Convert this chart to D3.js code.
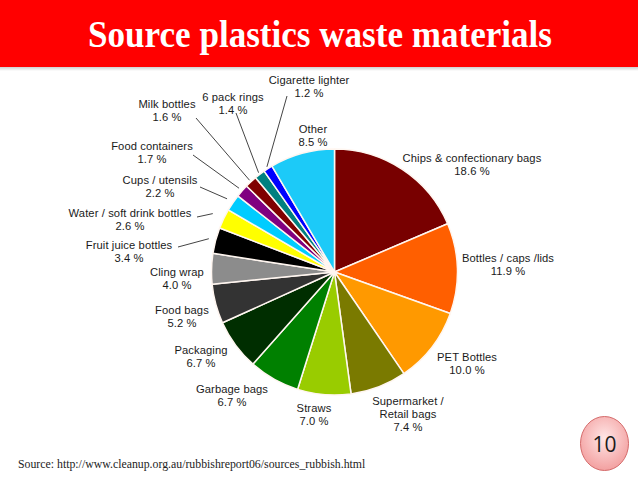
<!DOCTYPE html>
<html>
<head>
<meta charset="utf-8">
<script src="https://cdn.jsdelivr.net/npm/d3@7"></script>
<style>
  html, body { margin: 0; padding: 0; background: #fff; }
  svg { display: block; }
</style>
</head>
<body>
<svg id="chart" width="638" height="479"></svg>
<script>
// ---- data ----
const categories = [
  "Chips & confectionary bags", "Bottles / caps /lids", "PET Bottles",
  "Supermarket /\nRetail bags", "Straws", "Garbage bags", "Packaging",
  "Food bags", "Cling wrap", "Fruit juice bottles", "Water / soft drink bottles",
  "Cups / utensils", "Food containers", "Milk bottles", "6 pack rings",
  "Cigarette lighter", "Other"
];
const values = [18.6, 11.9, 10.0, 7.4, 7.0, 6.7, 6.7, 5.2, 4.0, 3.4, 2.6, 2.2, 1.7, 1.6, 1.4, 1.2, 8.5];
const title = "Source plastics waste materials";
const sourceText = "Source: http://www.cleanup.org.au/rubbishreport06/sources_rubbish.html";
const pageNumber = "10";

// ---- styles / layout ----
const colors = ["#780000", "#ff5f00", "#ff9900", "#7a7a00", "#99cc00", "#008000", "#002e00",
  "#333333", "#8c8c8c", "#000000", "#ffff00", "#00ccff", "#800080", "#800000",
  "#008080", "#0000ff", "#1ccaf8"];
const labelPos = [
  [472, 158], [508, 258], [467, 357], [408, 401], [314, 408], [232, 389], [201, 350],
  [182, 310], [177, 272], [129, 245], [130, 213], [160, 180], [152, 146], [167, 104],
  [233, 97], [309, 80], [313, 129]
];
// leader lines: index -> [startX, startY, end radius]
const leaders = {
  15: [287, 96, 125], 14: [236, 113, 125], 13: [196, 118, 125], 12: [193, 155, 127],
  11: [200, 187, 130], 10: [197, 217, 135], 9: [178, 247, 130]
};

const svg = d3.select("#chart");
const W = 638, H = 479;

// header
const defs = svg.append("defs");
const sh = defs.append("linearGradient").attr("id", "shadow").attr("x1", 0).attr("y1", 0).attr("x2", 0).attr("y2", 1);
sh.append("stop").attr("offset", 0).attr("stop-color", "#cfcfcf");
sh.append("stop").attr("offset", 1).attr("stop-color", "#ffffff");
svg.append("rect").attr("x", 0).attr("y", 67).attr("width", W).attr("height", 4).attr("fill", "url(#shadow)");
svg.append("rect").attr("x", 0).attr("y", 0).attr("width", W).attr("height", 67).attr("fill", "#ff0000");
svg.append("text")
  .attr("x", 320).attr("y", 47)
  .attr("text-anchor", "middle")
  .attr("textLength", 464).attr("lengthAdjust", "spacingAndGlyphs")
  .attr("font-family", "Liberation Serif, DejaVu Serif, serif")
  .attr("font-weight", "bold").attr("font-size", 37)
  .attr("fill", "#ffffff")
  .text(title);

// pie
const cx = 334.5, cy = 272, R = 123;
const pie = d3.pie().sort(null).value(d => d)(values);
const arc = d3.arc().innerRadius(0).outerRadius(R);
const g = svg.append("g").attr("transform", `translate(${cx},${cy})`);
g.selectAll("path.slice").data(pie).join("path")
  .attr("class", "slice")
  .attr("d", arc)
  .attr("fill", (d, i) => colors[i])
  .attr("stroke", "#fff6f0").attr("stroke-width", 1.5).attr("stroke-linejoin", "round");

// leader lines
Object.keys(leaders).forEach(k => {
  const i = +k, [sx, sy, er] = leaders[k];
  const a = (pie[i].startAngle + pie[i].endAngle) / 2;
  const ex = cx + er * Math.sin(a), ey = cy - er * Math.cos(a);
  svg.append("line").attr("x1", sx).attr("y1", sy).attr("x2", ex).attr("y2", ey)
    .attr("stroke", "#444").attr("stroke-width", 1);
});

// labels
const lg = svg.append("g")
  .attr("font-family", "Liberation Sans, Arial, sans-serif")
  .attr("font-size", 11.2).attr("letter-spacing", 0.1)
  .attr("fill", "#1a1a1a").attr("text-anchor", "middle");
categories.forEach((c, i) => {
  const lines = c.split("\n").concat([values[i].toFixed(1) + " %"]);
  const t = lg.append("text");
  lines.forEach((ln, j) => {
    t.append("tspan").attr("x", labelPos[i][0]).attr("y", labelPos[i][1] + j * 13.2)
      .attr("dominant-baseline", "central").text(ln);
  });
});

// source
svg.append("text").attr("x", 18).attr("y", 468)
  .attr("font-family", "Liberation Serif, Times New Roman, serif")
  .attr("font-size", 11.8).attr("fill", "#222")
  .text(sourceText);

// page number
const rg = defs.append("radialGradient").attr("id", "pn").attr("cx", "50%").attr("cy", "40%").attr("r", "60%");
rg.append("stop").attr("offset", 0).attr("stop-color", "#ffe6e6");
rg.append("stop").attr("offset", 1).attr("stop-color", "#f3a0a0");
svg.append("ellipse").attr("cx", 604.5).attr("cy", 443.5).attr("rx", 24).attr("ry", 27)
  .attr("fill", "url(#pn)").attr("stroke", "#d46a6a").attr("stroke-width", 1);
svg.append("text").attr("x", 604.5).attr("y", 444)
  .attr("text-anchor", "middle").attr("dominant-baseline", "central")
  .attr("font-family", "Open Sans, Liberation Sans, sans-serif")
  .attr("font-size", 21).attr("fill", "#1a1a1a")
  .text(pageNumber);
</script>
</body>
</html>
